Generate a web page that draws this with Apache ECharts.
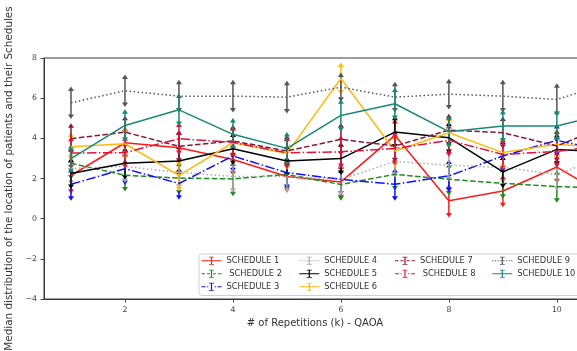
<!DOCTYPE html>
<html><head><meta charset="utf-8">
<script src="https://cdn.jsdelivr.net/npm/echarts@6/dist/echarts.min.js"></script>
<style>html,body{margin:0;padding:0;background:#fff}#c{width:577px;height:351px}</style>
</head><body><div id="c"></div>
<script>
// ---- data ----
const reps = [1, 2, 3, 4, 5, 6, 7, 8, 9, 10, 11];
const names = ['SCHEDULE 1', ' SCHEDULE 2', 'SCHEDULE 3', 'SCHEDULE 4', 'SCHEDULE 5',
               'SCHEDULE 6', 'SCHEDULE 7', ' SCHEDULE 8', 'SCHEDULE 9', 'SCHEDULE 10'];
const s1  = [2.15, 3.78, 3.53, 2.95, 2.10, 1.83, 4.15, 0.89, 1.38, 2.57, 1.00];
const s2  = [2.76, 2.16, 2.02, 1.98, 2.20, 1.70, 2.21, 1.96, 1.76, 1.60, 1.50];
const s3  = [1.71, 2.49, 1.75, 3.12, 2.29, 1.96, 1.71, 2.13, 3.12, 3.90, 3.30];
const s4  = [2.50, 2.60, 2.30, 2.10, 2.10, 1.95, 2.85, 2.66, 2.55, 2.20, 3.20];
const s5  = [2.25, 2.76, 2.87, 3.48, 2.87, 2.99, 4.31, 4.03, 2.33, 3.45, 3.30];
const s6  = [3.58, 3.73, 2.16, 3.78, 3.25, 6.98, 3.37, 4.28, 3.29, 3.70, 3.50];
const s7  = [3.98, 4.31, 3.60, 3.87, 3.37, 3.95, 3.62, 4.41, 4.28, 3.62, 4.70];
const s8  = [3.27, 3.29, 3.98, 3.80, 3.28, 3.33, 3.49, 3.90, 3.20, 3.35, 3.70];
const s9  = [5.77, 6.37, 6.10, 6.10, 6.05, 6.55, 6.05, 6.20, 6.10, 5.93, 6.80];
const s10 = [2.99, 4.64, 5.42, 4.20, 3.50, 5.14, 5.72, 4.33, 4.61, 4.61, 5.30];
// error half-widths
const e1  = [0.80, 0.70, 0.75, 0.70, 0.70, 0.75, 0.70, 0.72, 0.70, 0.70, 0.70];
const e2  = [0.70, 0.70, 0.70, 0.75, 0.70, 0.70, 0.70, 0.70, 0.66, 0.70, 0.70];
const e3  = [0.70, 0.70, 0.70, 0.70, 0.70, 0.70, 0.70, 0.70, 0.70, 0.70, 0.70];
const e4  = [0.70, 0.70, 0.70, 0.70, 0.70, 0.70, 0.70, 0.70, 0.70, 0.70, 0.70];
const e5  = [0.66, 0.70, 0.70, 0.70, 0.70, 0.70, 0.70, 0.70, 0.70, 0.70, 0.70];
const e6  = [0.60, 0.70, 0.70, 0.70, 0.70, 0.69, 0.70, 0.70, 0.70, 0.70, 0.70];
const e7  = [0.66, 0.70, 0.70, 0.70, 0.70, 0.70, 0.70, 0.70, 0.70, 0.70, 0.70];
const e8  = [0.70, 0.70, 0.70, 0.70, 0.70, 0.70, 0.70, 0.70, 0.70, 0.70, 0.70];
const e9  = [0.70, 0.70, 0.70, 0.70, 0.70, 0.62, 0.65, 0.65, 0.70, 0.70, 0.70];
const e10 = [0.60, 0.70, 0.70, 0.70, 0.70, 0.70, 0.70, 0.70, 0.70, 0.70, 0.70];
const xTicks = [2, 4, 6, 8, 10];

const values = [s1, s2, s3, s4, s5, s6, s7, s8, s9, s10];
const errors = [e1, e2, e3, e4, e5, e6, e7, e8, e9, e10];

// ---- styles ----
const colors = ['#ff1a1a', '#1f8a1f', '#1010ff', '#a9a9a9', '#000000',
                '#ffb90f', '#861838', '#dc143c', '#555555', '#178a72'];
const DASHED = [5.5, 2.4], DOTTED = [1.5, 2.5], DASHDOT = [9.6, 2.4, 1.5, 2.4];
const dashes = ['solid', DASHED, DASHDOT, DOTTED, 'solid', 'solid', DASHED, DASHDOT, DOTTED, 'solid'];
const bar = 'M9.4,0H10.6V10H9.4Z M7.5,0H12.5V1H7.5Z M7.5,9H12.5V10H7.5Z';
const icons = {
  solid: 'path://M0,4.4H20V5.6H0Z ' + bar,
  dashed: 'path://M0,4.4H3.5V5.6H0Z M5.5,4.4H8.5V5.6H5.5Z M11.5,4.4H14.5V5.6H11.5Z M16.5,4.4H20V5.6H16.5Z ' + bar,
  dotted: 'path://M0,4.4H1.2V5.6H0Z M2.6,4.4H3.8V5.6H2.6Z M5.2,4.4H6.4V5.6H5.2Z M7.8,4.4H9V5.6H7.8Z M11,4.4H12.2V5.6H11Z M13.6,4.4H14.8V5.6H13.6Z M16.2,4.4H17.4V5.6H16.2Z M18.8,4.4H20V5.6H18.8Z ' + bar,
  dashdot: 'path://M0,4.4H4V5.6H0Z M5.6,4.4H6.8V5.6H5.6Z M13.2,4.4H14.4V5.6H13.2Z M16,4.4H20V5.6H16Z ' + bar
};
const iconKind = ['solid', 'dashed', 'dashdot', 'dotted', 'solid', 'solid', 'dashed', 'dashdot', 'dotted', 'solid'];

const series = [];
values.forEach((v, i) => {
  const c = colors[i];
  series.push({
    type: 'line', name: names[i], data: reps.map((r, k) => [r, v[k]]),
    symbol: 'none', showSymbol: false, clip: true, z: 2,
    itemStyle: { color: c, borderWidth: 0 },
    lineStyle: { color: c, width: 1.5, type: dashes[i] }
  });
  series.push({
    type: 'custom', name: names[i], clip: true, z: 2,
    itemStyle: { color: c },
    data: reps.map((r, k) => [r, v[k] - errors[i][k], v[k] + errors[i][k]]),
    encode: { x: 0, y: [1, 2] },
    renderItem: (params, api) => {
      const x = api.value(0);
      const pLo = api.coord([x, api.value(1)]);
      const pHi = api.coord([x, api.value(2)]);
      const w = 3, h = 4.5;
      return {
        type: 'group', children: [
          { type: 'line', shape: { x1: pHi[0], y1: pHi[1], x2: pLo[0], y2: pLo[1] },
            style: { stroke: c, lineWidth: 1.5 } },
          { type: 'polygon', shape: { points: [[pHi[0] - w, pHi[1] + h / 2], [pHi[0] + w, pHi[1] + h / 2], [pHi[0], pHi[1] - h / 2]] },
            style: { fill: c } },
          { type: 'polygon', shape: { points: [[pLo[0] - w, pLo[1] - h / 2], [pLo[0] + w, pLo[1] - h / 2], [pLo[0], pLo[1] + h / 2]] },
            style: { fill: c } }
        ]
      };
    }
  });
});

const legendCols = [[0, 1, 2], [3, 4, 5], [6, 7], [8, 9]];
const legendLeft = [201.5, 299.3, 395, 492.3];
const legends = legendCols.map((col, j) => ({
  orient: 'vertical', left: legendLeft[j], top: 256.7,
  itemWidth: 20, itemHeight: 8, itemGap: 5, itemTextGap: 5, padding: 0,
  symbolKeepAspect: false,
  itemStyle: { borderWidth: 0 },
  textStyle: { fontFamily: 'DejaVu Sans', fontSize: 8.3, color: '#333' },
  data: col.map(i => ({ name: names[i], icon: icons[iconKind[i]] })),
  selectedMode: false
}));

const chart = echarts.init(document.getElementById('c'), null, { renderer: 'canvas' });
chart.setOption({
  animation: false,
  backgroundColor: '#fff',
  grid: { left: 44, top: 58, right: -9, bottom: 52, outerBoundsMode: 'none', containLabel: false,
          show: true, borderColor: '#3a3a3a', borderWidth: 1, backgroundColor: 'transparent' },
  xAxis: {
    type: 'value', min: 0.5, max: 10.54,
    name: '# of Repetitions (k) - QAOA', nameLocation: 'middle', nameGap: 16,
    nameTextStyle: { fontFamily: 'DejaVu Sans', fontSize: 10, color: '#333' },
    axisLine: { show: true, onZero: false, lineStyle: { color: '#3a3a3a' } },
    axisTick: { show: true, length: 3.5, customValues: xTicks, lineStyle: { color: '#444' } },
    axisLabel: { customValues: xTicks, margin: 6.5, fontFamily: 'DejaVu Sans', fontSize: 7.8, color: '#444' },
    splitLine: { show: false }
  },
  yAxis: {
    type: 'value', min: -4, max: 8, interval: 2,
    name: 'Median distribution of the location of patients and their Schedules',
    nameLocation: 'middle', nameGap: 23,
    nameTextStyle: { fontFamily: 'DejaVu Sans', fontSize: 10.4, color: '#333' },
    axisLine: { show: true, lineStyle: { color: '#3a3a3a' } },
    axisTick: { show: true, length: 3.5, lineStyle: { color: '#444' } },
    axisLabel: { margin: 7, fontFamily: 'DejaVu Sans', fontSize: 7.8, color: '#444',
                 formatter: v => String(v).replace('-', '\u2212') },
    splitLine: { show: false }
  },
  legend: legends,
  graphic: [{
    type: 'rect', left: 198.5, top: 253.5, z: 3,
    shape: { width: 400, height: 41.5, r: 3 },
    style: { fill: 'rgba(255,255,255,0.8)', stroke: '#d0d0d0', lineWidth: 1 }
  }],
  series: series
});
</script>
</body></html>
